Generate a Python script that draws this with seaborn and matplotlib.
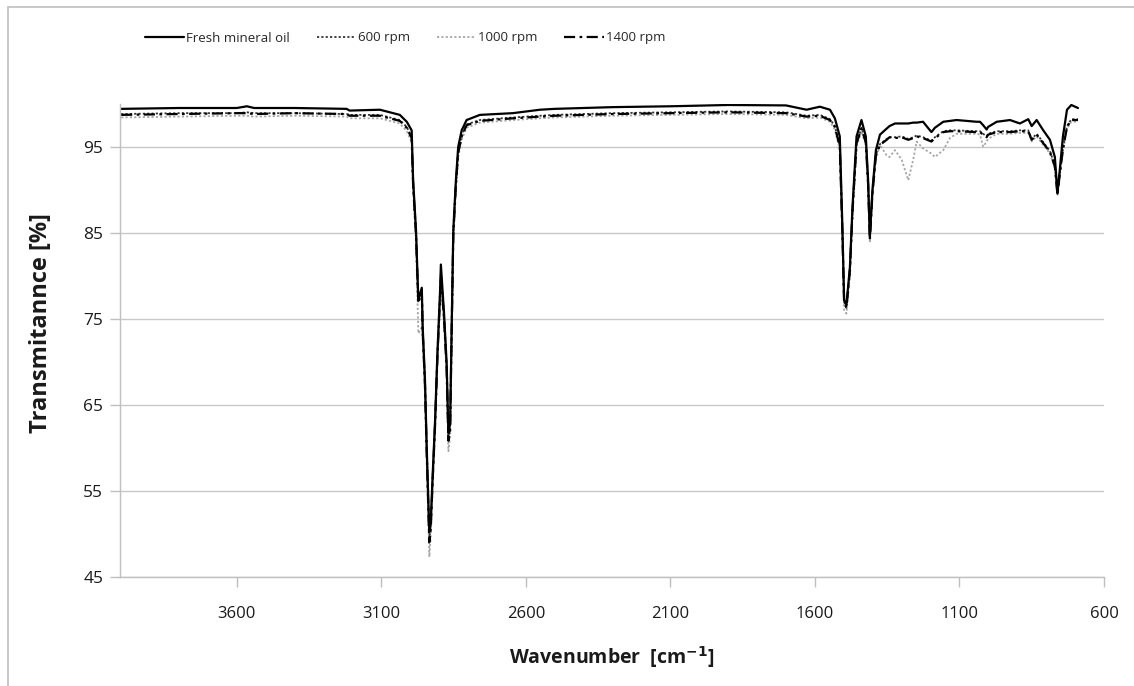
import numpy as np
import pandas as pd
import matplotlib
matplotlib.use("Agg")
import matplotlib.pyplot as plt
from matplotlib.lines import Line2D
from matplotlib import font_manager
import seaborn as sns

# ---------------- data ----------------
wavenumber = [4000, 3800, 3600, 3565, 3540, 3400, 3220, 3210, 3105, 3036, 3012, 2995, 2990, 2980,
              2972, 2960, 2957, 2949, 2943, 2934, 2929, 2922, 2914, 2906, 2897, 2894, 2883, 2874,
              2868, 2862, 2857, 2851, 2842, 2834, 2822, 2805, 2759, 2645, 2551, 2500, 2300, 2100,
              1900, 1700, 1629, 1583, 1548, 1531, 1514, 1505, 1499, 1491, 1479, 1470, 1456, 1439,
              1424, 1416, 1410, 1401, 1389, 1375, 1352, 1342, 1323, 1300, 1277, 1260, 1248, 1226,
              1197, 1185, 1156, 1133, 1110, 1041, 1029, 1018, 1006, 1001, 971, 925, 891, 862, 850,
              833, 810, 787, 770, 761, 753, 742, 728, 713, 690]

fresh_oil = [99.4, 99.5, 99.5, 99.7, 99.5, 99.5, 99.4, 99.2, 99.3, 98.7, 97.9, 96.9, 91.1, 85.3,
             77.2, 78.6, 74.1, 67.9, 60.1, 50.2, 51.5, 57.1, 63.2, 71.0, 78.0, 81.3, 75.6, 69.8,
             61.7, 62.8, 73.3, 85.3, 91.1, 95.0, 96.9, 98.1, 98.7, 98.9, 99.3, 99.4, 99.6, 99.7,
             99.85, 99.8, 99.3, 99.65, 99.3, 98.3, 96.2, 85.7, 77.2, 76.6, 81.0, 88.0, 96.2, 98.1,
             96.2, 91.1, 84.5, 90.0, 94.6, 96.4, 97.1, 97.4, 97.7, 97.7, 97.7, 97.8, 97.8, 97.9,
             96.7, 97.2, 97.9, 98.0, 98.1, 97.9, 97.9, 97.5, 97.0, 97.3, 97.9, 98.1, 97.7, 98.2, 97.4,
             98.1, 96.9, 95.8, 93.8, 89.6, 92.3, 96.2, 99.3, 99.85, 99.5]

rpm_600 = [98.8, 98.9, 98.9, 99.0, 98.9, 98.9, 98.8, 98.7, 98.7, 98.1, 97.3, 96.1, 90.7, 84.9,
           76.9, 78.3, 73.8, 67.5, 59.7, 49.3, 50.8, 56.7, 62.8, 70.6, 77.6, 80.3, 75.1, 69.4,
           61.0, 62.2, 72.9, 84.9, 90.7, 94.4, 96.3, 97.6, 98.1, 98.4, 98.6, 98.7, 98.9, 99.0,
           99.1, 99.0, 98.6, 98.7, 98.2, 97.4, 95.1, 85.1, 76.9, 76.5, 80.7, 87.6, 95.5, 97.2,
           95.6, 90.7, 84.3, 89.7, 94.1, 95.3, 95.9, 96.1, 96.1, 96.2, 95.9, 96.1, 96.3, 96.1,
           95.7, 96.1, 96.8, 96.9, 96.9, 96.8, 96.8, 96.5, 96.2, 96.5, 96.8, 96.8, 96.9, 96.9, 95.9,
           96.5, 95.5, 94.5, 92.8, 89.5, 91.9, 94.8, 97.4, 98.2, 98.2]

rpm_1000 = [98.4, 98.5, 98.6, 98.6, 98.5, 98.6, 98.5, 98.3, 98.3, 97.7, 96.8, 95.5, 90.0, 84.0,
            73.3, 74.0, 72.8, 66.5, 58.5, 47.3, 49.8, 55.8, 62.0, 69.8, 76.8, 79.0, 74.4, 68.5,
            59.6, 61.3, 72.0, 84.0, 90.0, 93.8, 95.8, 97.2, 97.8, 98.1, 98.3, 98.4, 98.6, 98.7,
            98.8, 98.7, 98.3, 98.4, 97.9, 97.0, 94.6, 84.5, 76.0, 75.6, 80.0, 87.0, 95.0, 96.8,
            95.2, 90.2, 84.0, 89.2, 93.6, 95.2, 94.0, 93.8, 94.6, 93.5, 91.1, 93.5, 95.6, 94.8,
            94.2, 93.8, 94.6, 96.0, 96.5, 96.5, 96.4, 95.0, 95.6, 95.9, 96.5, 96.5, 96.6, 96.6, 95.6,
            96.2, 95.2, 94.2, 92.5, 89.3, 91.6, 94.5, 97.1, 97.9, 97.9]

rpm_1400 = [98.7, 98.8, 98.9, 98.9, 98.8, 98.9, 98.8, 98.6, 98.6, 98.0, 97.2, 96.0, 90.6, 84.8,
            76.8, 78.2, 73.6, 67.3, 59.5, 49.0, 50.6, 56.5, 62.7, 70.5, 77.5, 80.0, 75.0, 69.2,
            60.8, 62.0, 72.8, 84.8, 90.6, 94.3, 96.2, 97.5, 98.0, 98.3, 98.5, 98.6, 98.8, 98.9,
            99.0, 98.9, 98.5, 98.6, 98.1, 97.3, 95.0, 85.0, 76.8, 76.3, 80.6, 87.5, 95.4, 97.1,
            95.5, 90.6, 84.2, 89.6, 94.0, 95.2, 95.8, 96.1, 96.0, 96.1, 95.8, 96.0, 96.2, 96.0,
            95.6, 96.0, 96.7, 96.8, 96.8, 96.7, 96.7, 96.4, 96.1, 96.4, 96.7, 96.7, 96.8, 96.8, 95.8,
            96.4, 95.4, 94.4, 92.7, 89.4, 91.8, 94.7, 97.3, 98.1, 98.1]

series_names = ["Fresh mineral oil", "600 rpm", "1000 rpm", "1400 rpm"]
y_ticks = [45, 55, 65, 75, 85, 95]
x_ticks = [3600, 3100, 2600, 2100, 1600, 1100, 600]

# ---------------- figure ----------------
sns.set_theme(style="white")
plt.rcParams['font.family'] = ['Open Sans', 'DejaVu Sans']

available = {f.name for f in font_manager.fontManager.ttflist}
if "Liberation Sans Narrow" in available:
    legend_font = dict(family="Liberation Sans Narrow", size=11.5)
    hl, cs = 3.3, 2.2
else:
    legend_font = dict(family="Open Sans", size=9.5)
    hl, cs = 3.0, 2.0

fig = plt.figure(figsize=(11.34, 6.86), dpi=100)
W, H = 1134, 686
ax = fig.add_axes([120 / W, 1 - 576.7 / H, (1104 - 120) / W, (576.7 - 103.7) / H])

styles = [
    dict(color="black", linestyle="-", linewidth=1.6),
    dict(color="#333333", linestyle=(0, (1.2, 1.2)), linewidth=1.3),
    dict(color="#a6a6a6", linestyle=(0, (1.2, 1.2)), linewidth=1.3),
    dict(color="black", linestyle=(0, (5, 2, 1.2, 2)), linewidth=1.6),
]
data_list = [fresh_oil, rpm_600, rpm_1000, rpm_1400]
draw_order = [2, 1, 3, 0]
handles = [None] * 4
for i in draw_order:
    df = pd.DataFrame({"wn": wavenumber, "T": data_list[i]})
    sns.lineplot(data=df, x="wn", y="T", ax=ax, sort=False, estimator=None,
                 label=series_names[i], legend=False, **styles[i])
    handles[i] = Line2D([], [], **styles[i])

ax.set_xlim(4004, 600)
ax.set_ylim(45, 100)
ax.set_xticks(x_ticks)
ax.set_yticks(y_ticks)
ax.set_xticklabels([str(t) for t in x_ticks], fontsize=12, color="#1a1a1a")
ax.set_yticklabels([str(t) for t in y_ticks], fontsize=12.5, color="#1a1a1a")
ax.yaxis.grid(True, color="#c8c8c8", linewidth=1.0)
ax.xaxis.grid(False)
for s in ["top", "right"]:
    ax.spines[s].set_visible(False)
for s in ["left", "bottom"]:
    ax.spines[s].set_color("#bfbfbf")
    ax.spines[s].set_linewidth(1.0)
ax.tick_params(axis="both", which="both", length=7, width=1, color="#bfbfbf",
               direction="out", pad=14)
ax.tick_params(axis="y", pad=5)
ax.xaxis.set_ticks_position("bottom")
ax.yaxis.set_ticks_position("left")

ax.set_xlabel(r"Wavenumber  [cm$^{\mathbf{-1}}$]", fontsize=14, fontweight="bold",
              color="#1a1a1a", labelpad=16)
ax.set_ylabel("Transmitannce [%]", fontsize=17, fontweight="bold", color="#1a1a1a")
ax.yaxis.set_label_coords(-0.068, 0.536)

fig.legend(handles=handles, labels=series_names, loc="center",
           bbox_to_anchor=(405 / W, 1 - 38 / H), ncol=4, frameon=False,
           prop=legend_font, handlelength=hl, handletextpad=0.15, columnspacing=cs)

# chart-area border (top and left edges visible)
fig.add_artist(Line2D([8 / W, 1.0], [1 - 7 / H, 1 - 7 / H], transform=fig.transFigure,
                      color="#bfbfbf", linewidth=1.2))
fig.add_artist(Line2D([8 / W, 8 / W], [0.0, 1 - 7 / H], transform=fig.transFigure,
                      color="#bfbfbf", linewidth=1.2))

fig.savefig("out.png", dpi=100, facecolor="white")
